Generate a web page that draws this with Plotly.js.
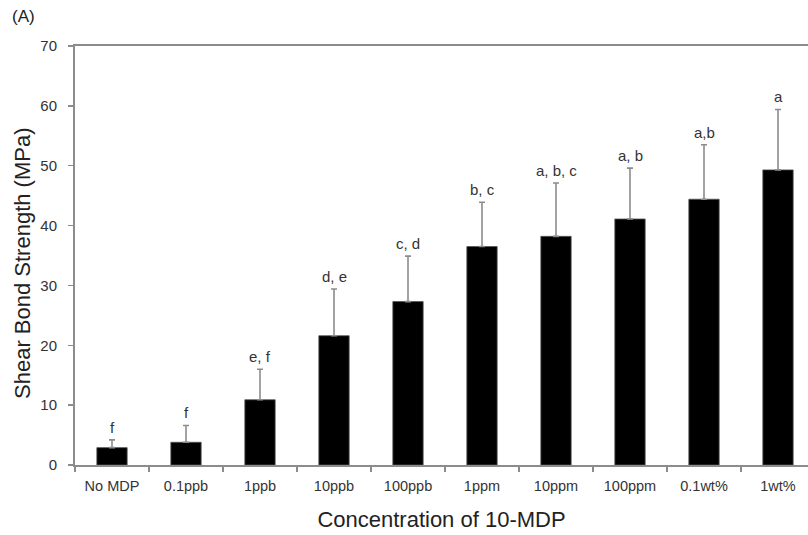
<!DOCTYPE html>
<html>
<head>
<meta charset="utf-8">
<script src="https://cdn.plot.ly/plotly-3.0.1.min.js"></script>
<style>html,body{margin:0;padding:0;background:#fff;}#chart{width:808px;height:535px;}</style>
</head>
<body>
<div id="chart"></div>
<script>
const categories = ["No MDP", "0.1ppb", "1ppb", "10ppb", "100ppb", "1ppm", "10ppm", "100ppm", "0.1wt%", "1wt%"];
const means = [2.9, 3.8, 10.9, 21.6, 27.3, 36.5, 38.2, 41.1, 44.4, 49.3];
const sds = [1.3, 2.8, 5.1, 7.8, 7.6, 7.4, 8.9, 8.5, 9.1, 10.1];
const groupLabels = ["f", "f", "e, f", "d, e", "c, d", "b, c", "a, b, c", "a, b", "a,b", "a"];
const yTicks = [0, 10, 20, 30, 40, 50, 60, 70];

const font = "Liberation Sans, Arial, sans-serif";

const trace = {
  type: "bar",
  x: categories,
  y: means,
  width: 0.41,
  marker: {color: "#000000", line: {color: "#555555", width: 0.8}},
  error_y: {type: "data", array: sds, symmetric: false, arrayminus: sds.map(() => 0),
            color: "#8c8c8c", thickness: 1.6, width: 3},
  hoverinfo: "skip"
};

const annotations = categories.map((c, i) => ({
  x: c, y: means[i] + sds[i], xref: "x", yref: "y",
  text: groupLabels[i], showarrow: false, yanchor: "bottom", yshift: 2,
  font: {family: font, size: 15, color: "#333333"}
}));
annotations.push({
  xref: "paper", yref: "paper", x: (10 - 75)/733, y: 1 + 30/419, xanchor: "left", yanchor: "middle",
  text: "(A)", showarrow: false, font: {family: font, size: 17, color: "#222222"}
});
annotations.push({
  xref: "paper", yref: "paper", x: (22 - 75)/733, y: (465 - 264)/419, xanchor: "center", yanchor: "middle",
  text: "Shear Bond Strength (MPa)", textangle: -90, showarrow: false,
  font: {family: font, size: 22, color: "#222222"}
});

const layout = {
  width: 808, height: 535,
  margin: {l: 75, r: 0, t: 46, b: 70, pad: 0},
  paper_bgcolor: "#ffffff", plot_bgcolor: "#ffffff",
  showlegend: false,
  bargap: 0.59,
  xaxis: {
    type: "category",
    range: [-0.5, 9.5 - 7/74],
    showline: true, linecolor: "#8c8c8c", linewidth: 2, mirror: true,
    ticks: "outside", tickson: "boundaries", ticklen: 5, tickcolor: "#8c8c8c", tickwidth: 1.5,
    tickfont: {family: font, size: 14.5, color: "#333333"},
    ticklabelstandoff: 7,
    showgrid: false, zeroline: false,
    title: {text: "Concentration of 10-MDP", font: {family: font, size: 22, color: "#222222"}, standoff: 18}
  },
  yaxis: {
    range: [0, 70], tickvals: yTicks, ticktext: yTicks.map(String),
    showline: true, linecolor: "#8c8c8c", linewidth: 2,
    ticks: "outside", ticklen: 5, tickcolor: "#8c8c8c", tickwidth: 1.5,
    tickfont: {family: font, size: 15, color: "#333333"},
    ticklabelstandoff: 8,
    showgrid: false, zeroline: false
  },
  annotations: annotations
};

Plotly.newPlot("chart", [trace], layout, {displayModeBar: false, staticPlot: true});
</script>
</body>
</html>
